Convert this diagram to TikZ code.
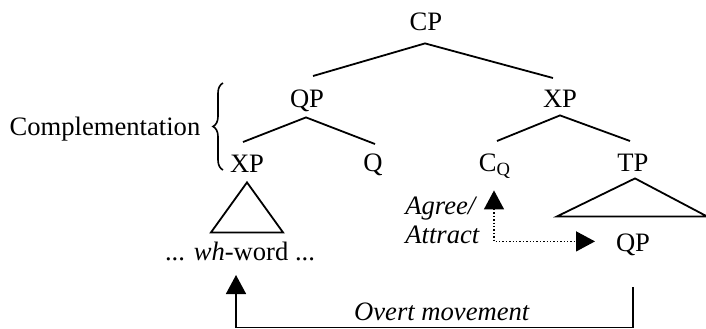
\documentclass[tikz,border=0pt]{standalone}
\usepackage{fontspec}
\setmainfont{Liberation Serif}[ItalicFont={Liberation Serif Italic},BoldFont={Liberation Serif Bold}]
\usetikzlibrary{calc,arrows.meta,decorations.pathreplacing}
\tikzset{bigtip/.tip={Triangle[length=9.5pt,width=10pt]}}
\begin{document}
\begin{tikzpicture}[x=0.5pt,y=-0.5pt,
  every node/.style={font=\fontsize{13.3}{16}\selectfont},
  cat/.style={inner sep=0pt, text height=8.8pt, text depth=0pt, anchor=base},
  txt/.style={inner sep=0pt, anchor=base},
  branch/.style={line width=0.9pt},
  tri/.style={line width=0.9pt, line join=miter}
]
\useasboundingbox (0,0) rectangle (706,328);
% tree nodes
\node[cat] (CP)  at (426,30)  {CP};
\node[cat] (QP)  at (307,107) {QP};
\node[cat] (XPr) at (560,107) {XP};
\node[cat] (XPl) at (247,172) {XP};
\node[cat] (Q)   at (373,171) {Q};
\node[cat] (CQ)  at (495,171) {C\textsubscript{Q}};
\node[cat] (TP)  at (633,171) {TP};
\node[cat] (QPlow) at (633,251) {QP};
\node[txt] (wh)  at (240,260) {... \textit{wh}-word ...};
\node[txt] (Comp) at (105,135) {Complementation};
\node[txt,anchor=base west] (Agree) at (405,214) {\textit{Agree/}};
\node[txt,anchor=base west] (Attract) at (405,243) {\textit{Attract}};
\node[txt] (Overt) at (442,320) {\textit{Overt movement}};
% branches
\draw[branch] ($(QP.north)+(6,-13)$) -- ($(CP.south)+(-1,13)$) -- ($(XPr.north)+(-7,-11)$);
\draw[branch] ($(XPl.north)+(-4,-12)$) -- ($(QP.south)+(-1,10)$) -- ($(Q.north)+(2,-9)$);
\draw[branch] ($(CQ.north)+(2,-12)$) -- ($(XPr.south)+(0,8)$) -- ($(TP.north)+(-3,-12)$);
% triangles
\draw[tri] ($(XPl.south)+(0,10)$) -- ($(XPl.south)+(-36,60)$) -- ($(XPl.south)+(36,60)$) -- cycle;
\draw[tri] ($(TP.south)+(2,7)$) -- ($(TP.south)+(-76,45)$) -- ($(TP.south)+(74,45)$) -- cycle;
% brace
\draw[line width=0.8pt, decorate, decoration={brace, amplitude=5pt}]
  ($(Comp.base)+(118,35)$) -- ($(Comp.base)+(118,-52)$);
% agree / attract
\draw[line width=0.7pt, densely dotted, bigtip-bigtip]
  ($(CQ.south)+(-1,19)$) |- ($(QPlow.south)+(-38,-10)$);
% overt movement
\draw[line width=0.8pt, -bigtip]
  ($(QPlow.south)+(0,36)$) -- ++(0,40) -| ($(wh.base)+(-4,15)$);
\end{tikzpicture}
\end{document}
